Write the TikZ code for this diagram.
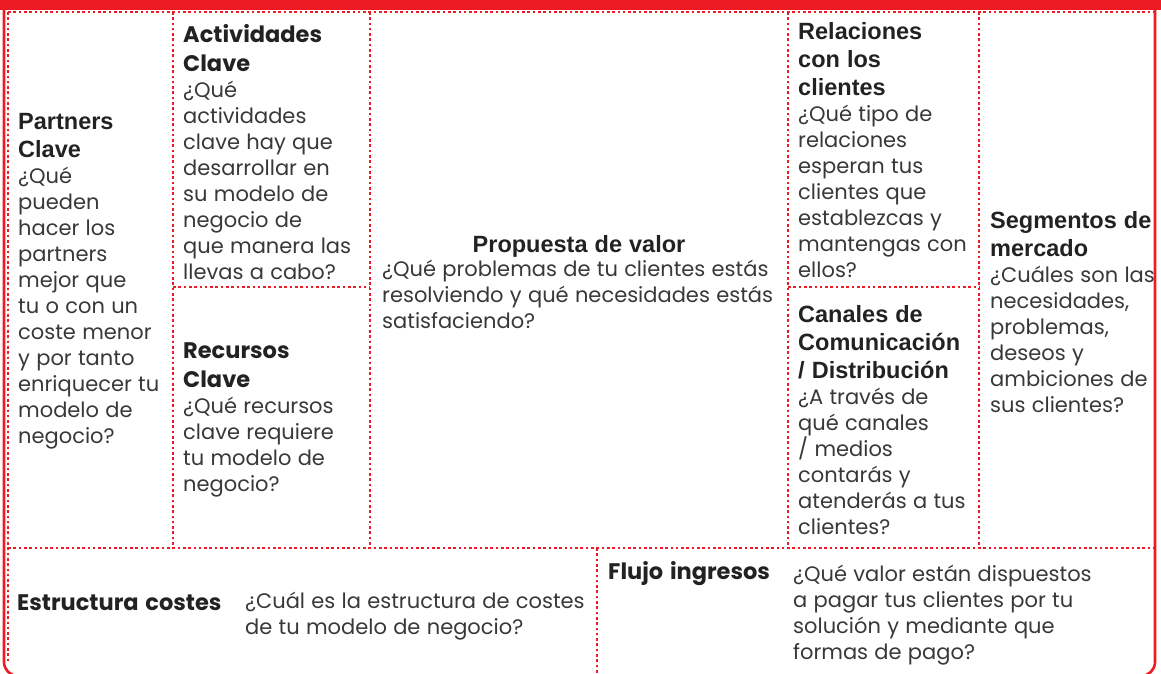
\documentclass[tikz,border=0pt]{standalone}
\usepackage{fontspec}
\setmainfont{Liberation Sans}
\newfontfamily\popf{Poppins}
\newfontfamily\arf{Liberation Sans}
\definecolor{cred}{HTML}{ED1C24}
\definecolor{ctext}{HTML}{383838}
\definecolor{chead}{HTML}{222222}
\newcommand{\bodyf}{\popf\fontsize{21}{26}\selectfont\spaceskip=0.3em\relax\color{ctext}}
\newcommand{\headA}{\arf\bfseries\fontsize{23.5}{28}\selectfont\spaceskip=0.3em\relax\color{chead}}
\newcommand{\headG}{\popf\bfseries\fontsize{22.5}{29}\selectfont\spaceskip=0.3em\relax\color{chead}}
\begin{document}
\begin{tikzpicture}[x=1pt,y=-1pt,
  dots/.style={cred, line width=2.4pt, dash pattern=on 2.6pt off 2.7pt},
  frameline/.style={cred, line width=2.6pt},
  cell/.style={inner sep=0pt, text width=#1, align=left}]
\useasboundingbox (0,0) rectangle (1161,674);
\fill[cred] (0,0) rectangle (1161,10);
\draw[frameline, rounded corners=14pt] (4,0) -- (4,676) -- (1155,676) -- (1155,0);
% dotted grid
\draw[dots] (8,12) -- (1153,12);
\draw[dots] (8,12) -- (8,662);
\draw[dots] (173,12) -- (173,548);
\draw[dots] (370,12) -- (370,548);
\draw[dots] (788,12) -- (788,548);
\draw[dots] (979,12) -- (979,548);
\draw[dots] (173,287) -- (370,287);
\draw[dots] (788,287) -- (979,287);
\draw[dots] (8,548) -- (1153,548);
\draw[dots] (597,548) -- (597,674);
% texts
\node[cell=154, anchor=west] (partners) at (18,281)
  {{\headA Partners\\Clave\par}{\bodyf ¿Qué\\pueden\\hacer los\\partners\\mejor que\\tu o con un\\coste menor\\y por tanto\\enriquecer tu\\modelo de\\negocio?\par}};
\node[cell=186, anchor=north west] (activ) at (183,24)
  {{\headG Actividades\\Clave\par}{\bodyf ¿Qué\\actividades\\clave hay que\\desarrollar en\\su modelo de\\negocio de\\que manera las\\llevas a cabo?\par}};
\node[cell=186, anchor=west] (recur) at (183,420)
  {{\headG Recursos\\Clave\par}{\bodyf ¿Qué recursos\\clave requiere\\tu modelo de\\negocio?\par}};
\node[inner sep=0pt, anchor=center] (propt) at (579,246) {\headA Propuesta de valor};
\node[cell=405, anchor=north west] (propb) at (382,260)
  {\bodyf ¿Qué problemas de tu clientes estás\\resolviendo y qué necesidades estás\\satisfaciendo?\par};
\node[cell=186, anchor=north west] (relac) at (798,22.5)
  {{\headA Relaciones\\con los\\clientes\par}{\bodyf ¿Qué tipo de\\relaciones\\esperan tus\\clientes que\\establezcas y\\mantengas con\\ellos?\par}};
\node[cell=186, anchor=west] (canal) at (798,420)
  {{\headA Canales de\\Comunicación\\/ Distribución\par}{\bodyf ¿A través de\\qué canales\\/ medios\\contarás y\\atenderás a tus\\clientes?\par}};
\node[cell=200, anchor=north west] (segm) at (990,211.5)
  {{\headA Segmentos de\\mercado\par}{\bodyf ¿Cuáles son las\\necesidades,\\problemas,\\deseos y\\ambiciones de\\sus clientes?\par}};
\node[inner sep=0pt, anchor=west] (estr) at (17,603) {\headG Estructura costes};
\node[cell=380, anchor=north west] (estrb) at (245,592)
  {\bodyf ¿Cuál es la estructura de costes\\de tu modelo de negocio?\par};
\node[inner sep=0pt, anchor=west] (flujo) at (608,574) {\headG Flujo ingresos};
\node[cell=370, anchor=north west] (flujob) at (793,565)
  {\bodyf ¿Qué valor están dispuestos\\a pagar tus clientes por tu\\solución y mediante que\\formas de pago?\par};
\end{tikzpicture}
\end{document}
